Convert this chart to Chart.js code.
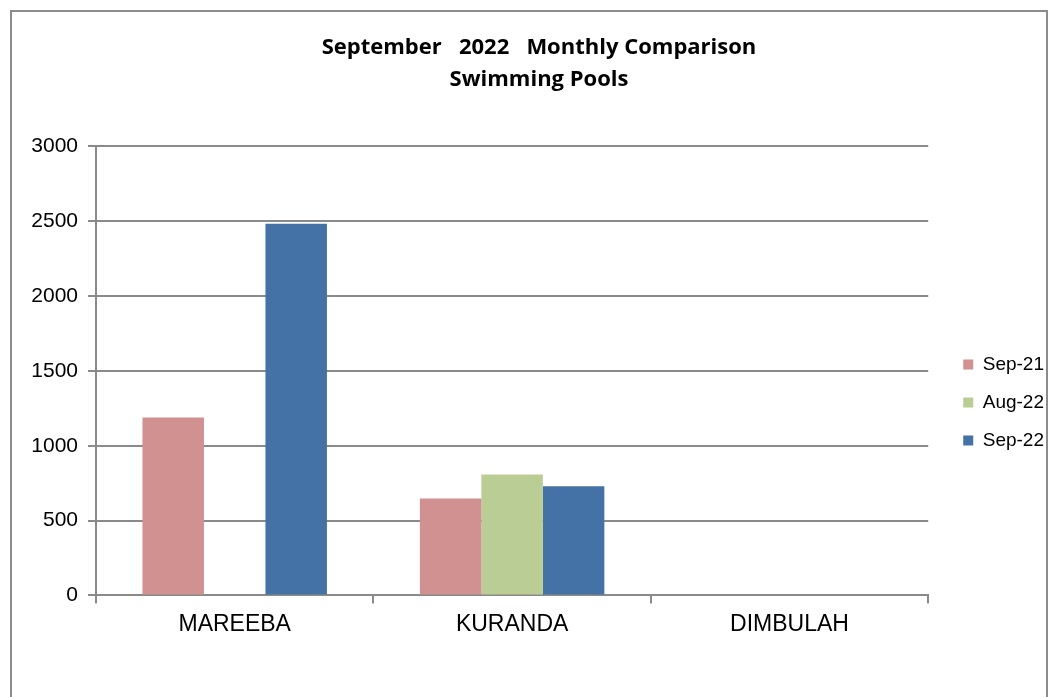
<!DOCTYPE html>
<html>
<head>
<meta charset="utf-8">
<script src="https://cdn.jsdelivr.net/npm/chart.js@4"></script>
<style>
  html, body { margin: 0; padding: 0; background: #fff; }
  #frame {
    position: absolute; left: 10px; top: 10px;
    width: 1034px; height: 700px;
    border: 2px solid #8c8c8c; border-bottom: none;
  }
  #wrap { position: absolute; left: 0; top: 0; width: 1057px; height: 697px; }
</style>
</head>
<body>
<div id="frame"></div>
<div id="wrap"><canvas id="chart" width="1057" height="697"></canvas></div>
<script>
// categories + series
const pools = ['MAREEBA', 'KURANDA', 'DIMBULAH'];
const sep21 = [1189, 647, 0];
const aug22 = [0, 807, 0];
const sep22 = [2483, 729, 0];
const yTicks = [0, 500, 1000, 1500, 2000, 2500, 3000];

const titleLines = ['September   2022   Monthly Comparison', 'Swimming Pools'];

const gridGrey = '#8a8a8a';
const arial = "'Liberation Sans', Arial, sans-serif";

// nudge title + legend to where the original sits
const nudge = {
  id: 'nudge',
  afterLayout(chart) {
    let t = chart.titleBlock;
    t.left += 15; t.right += 15;
    let lg = chart.legend;
    lg.left += 16; lg.right += 16;
    lg.top += 64; lg.bottom += 64;
  }
};

let ctx = document.getElementById('chart').getContext('2d');
chart = new Chart(ctx, {
  type: 'bar',
  data: {
    labels: pools,
    datasets: [
      { label: 'Sep-21', data: sep21, backgroundColor: '#d19190' },
      { label: 'Aug-22', data: aug22, backgroundColor: '#b9cd94' },
      { label: 'Sep-22', data: sep22, backgroundColor: '#4472a6' },
    ],
  },
  plugins: [nudge],
  options: {
    responsive: false,
    animation: false,
    layout: { padding: { left: 10, right: 19, top: 32, bottom: 52 } },
    datasets: {
      bar: { categoryPercentage: 0.665, barPercentage: 1.0 }
    },
    plugins: {
      tooltip: { enabled: false },
      title: {
        display: true,
        text: titleLines,
        color: '#000',
        font: { family: "'Open Sans', sans-serif", size: 22, weight: 'bold', lineHeight: 1.44 },
        padding: { top: 0, bottom: 51 },
      },
      legend: {
        position: 'right',
        labels: {
          color: '#000',
          font: { family: arial, size: 19 },
          boxWidth: 10, boxHeight: 10,
          padding: 19,
        },
      },
    },
    scales: {
      x: {
        grid: {
          offset: true, drawOnChartArea: false, tickLength: 8,
          color: gridGrey, lineWidth: 2,
        },
        border: { color: gridGrey, width: 2 },
        ticks: {
          color: '#000', padding: 7,
          font: { family: arial, size: 23 },
        },
      },
      y: {
        min: 0, max: 3000,
        afterBuildTicks: axis => { axis.ticks = yTicks.map(v => ({ value: v })) },
        afterFit: axis => { axis.width = 86 },
        grid: { color: gridGrey, lineWidth: 2, tickLength: 8 },
        border: { color: gridGrey, width: 2 },
        ticks: {
          color: '#000', padding: 10,
          font: { family: arial, size: 21 },
          callback: v => String(v),
        },
      },
    },
  },
});
</script>
</body>
</html>
